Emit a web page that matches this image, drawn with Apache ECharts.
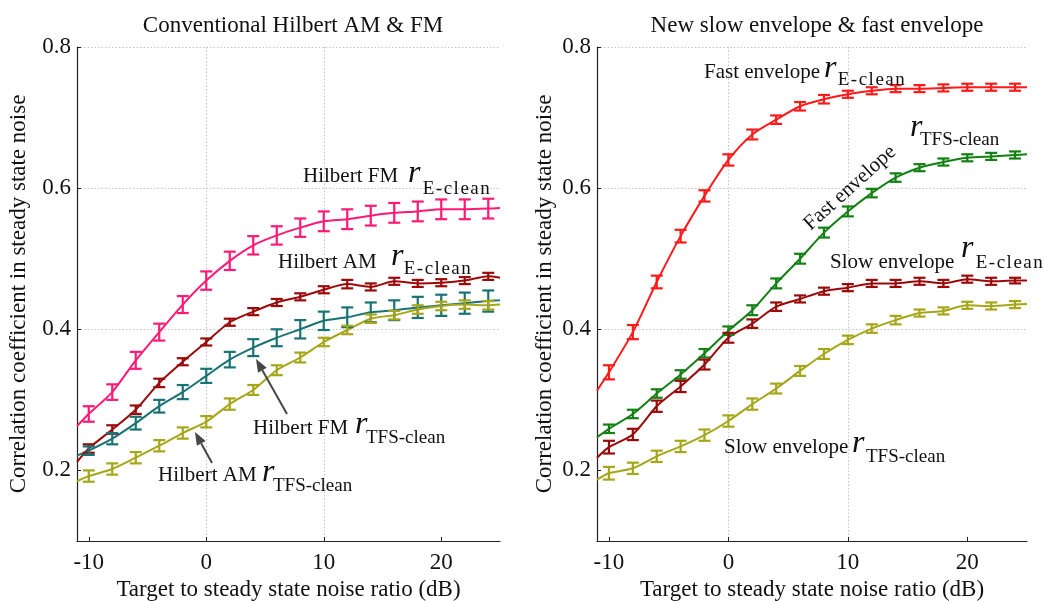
<!DOCTYPE html>
<html>
<head>
<meta charset="utf-8">
<script src="https://cdn.jsdelivr.net/npm/echarts@6/dist/echarts.min.js"></script>
<style>
  html, body { margin: 0; padding: 0; background: #ffffff; }
  #chart { width: 1044px; height: 601px; }
</style>
</head>
<body>
<div id="chart"></div>
<script>
// SNR levels (dB) at which correlations were measured
const snr = [-10, -8, -6, -4, -2, 0, 2, 4, 6, 8, 10, 12, 14, 16, 18, 20, 22, 24];
// fitted curves continue to the axis limits; values at -11 dB and 25 dB
const lineEnds = [-11, 25];

// Conventional Hilbert AM & FM
const hilbertFmE      = [0.280, 0.311, 0.356, 0.396, 0.435, 0.469, 0.497, 0.519, 0.533, 0.544, 0.553, 0.556, 0.561, 0.565, 0.567, 0.570, 0.570, 0.571];
const hilbertFmEErr   = [0.011, 0.011, 0.012, 0.012, 0.012, 0.013, 0.013, 0.013, 0.013, 0.013, 0.014, 0.014, 0.014, 0.014, 0.014, 0.014, 0.014, 0.014];
const hilbertFmEEnds  = [0.263, 0.572];
const hilbertAmE      = [0.231, 0.258, 0.286, 0.324, 0.354, 0.382, 0.410, 0.425, 0.438, 0.446, 0.456, 0.464, 0.460, 0.468, 0.465, 0.466, 0.469, 0.475];
const hilbertAmEErr   = [0.006, 0.006, 0.006, 0.006, 0.005, 0.005, 0.005, 0.005, 0.005, 0.005, 0.005, 0.006, 0.005, 0.005, 0.005, 0.005, 0.005, 0.005];
const hilbertAmEEnds  = [0.212, 0.473];
const hilbertFmT      = [0.228, 0.245, 0.267, 0.291, 0.311, 0.334, 0.357, 0.374, 0.388, 0.400, 0.412, 0.417, 0.424, 0.427, 0.431, 0.434, 0.437, 0.440];
const hilbertFmTErr   = [0.006, 0.008, 0.009, 0.009, 0.010, 0.010, 0.011, 0.012, 0.012, 0.013, 0.013, 0.014, 0.014, 0.014, 0.015, 0.015, 0.015, 0.015];
const hilbertFmTEnds  = [0.221, 0.441];
const hilbertAmT      = [0.192, 0.202, 0.218, 0.235, 0.253, 0.269, 0.294, 0.314, 0.342, 0.360, 0.382, 0.399, 0.415, 0.420, 0.428, 0.433, 0.435, 0.434];
const hilbertAmTErr   = [0.008, 0.008, 0.008, 0.008, 0.008, 0.008, 0.008, 0.007, 0.007, 0.007, 0.006, 0.006, 0.006, 0.006, 0.006, 0.006, 0.006, 0.006];
const hilbertAmTEnds  = [0.185, 0.435];

// New slow envelope & fast envelope
const fastE      = [0.339, 0.396, 0.467, 0.532, 0.589, 0.640, 0.676, 0.697, 0.716, 0.726, 0.733, 0.738, 0.741, 0.741, 0.742, 0.743, 0.743, 0.743];
const fastEErr   = [0.010, 0.010, 0.009, 0.009, 0.008, 0.008, 0.007, 0.006, 0.006, 0.006, 0.005, 0.005, 0.005, 0.005, 0.005, 0.005, 0.005, 0.005];
const fastEEnds  = [0.313, 0.743];
const fastT      = [0.259, 0.280, 0.309, 0.336, 0.366, 0.398, 0.427, 0.465, 0.500, 0.537, 0.567, 0.593, 0.615, 0.629, 0.637, 0.643, 0.645, 0.647];
const fastTErr   = [0.006, 0.006, 0.006, 0.006, 0.006, 0.006, 0.007, 0.007, 0.007, 0.007, 0.007, 0.006, 0.006, 0.005, 0.005, 0.005, 0.005, 0.005];
const fastTEnds  = [0.247, 0.648];
const slowE      = [0.233, 0.251, 0.291, 0.319, 0.350, 0.388, 0.408, 0.432, 0.443, 0.454, 0.459, 0.465, 0.465, 0.468, 0.465, 0.471, 0.468, 0.469];
const slowEErr   = [0.009, 0.008, 0.008, 0.008, 0.007, 0.007, 0.006, 0.006, 0.005, 0.005, 0.005, 0.005, 0.005, 0.005, 0.005, 0.005, 0.005, 0.004];
const slowEEnds  = [0.218, 0.469];
const slowT      = [0.196, 0.203, 0.220, 0.234, 0.250, 0.270, 0.294, 0.316, 0.341, 0.365, 0.385, 0.401, 0.413, 0.423, 0.426, 0.434, 0.433, 0.435];
const slowTErr   = [0.009, 0.008, 0.008, 0.008, 0.008, 0.008, 0.008, 0.007, 0.007, 0.007, 0.006, 0.006, 0.006, 0.005, 0.005, 0.005, 0.005, 0.005];
const slowTEnds  = [0.187, 0.436];

const xTicks = [-10, 0, 10, 20];
const yTicks = [0.2, 0.4, 0.6, 0.8];

const SERIF = '"Liberation Serif", "Times New Roman", serif';
const C = {
  pink: '#ff1a75', maroon: '#9b0a0a', teal: '#1a7373', olive: '#a6a619',
  red: '#ff1a1a', green: '#138013'
};

function lineData(vals, ends) {
  const d = [[lineEnds[0], ends[0]]];
  snr.forEach((x, i) => d.push([x, vals[i]]));
  d.push([lineEnds[1], ends[1]]);
  return d;
}

function curve(idx, vals, ends, color) {
  return {
    type: 'line', xAxisIndex: idx, yAxisIndex: idx,
    data: lineData(vals, ends), smooth: 0.25, showSymbol: false,
    lineStyle: { color: color, width: 2 }, z: 3, animation: false
  };
}

function errorBars(idx, vals, errs, color) {
  return {
    type: 'custom', xAxisIndex: idx, yAxisIndex: idx,
    data: snr.map((x, i) => [x, vals[i] - errs[i], vals[i] + errs[i]]),
    encode: { x: 0, y: [1, 2] },
    animation: false, z: 4,
    renderItem: function (params, api) {
      const lo = api.coord([api.value(0), api.value(1)]);
      const hi = api.coord([api.value(0), api.value(2)]);
      const w = 6;
      const st = { stroke: color, lineWidth: 2.2, fill: null };
      return {
        type: 'group',
        children: [
          { type: 'line', shape: { x1: lo[0], y1: lo[1], x2: hi[0], y2: hi[1] }, style: st },
          { type: 'line', shape: { x1: lo[0] - w, y1: lo[1], x2: lo[0] + w, y2: lo[1] }, style: st },
          { type: 'line', shape: { x1: hi[0] - w, y1: hi[1], x2: hi[0] + w, y2: hi[1] }, style: st }
        ]
      };
    }
  };
}

const gridLine = { show: true, lineStyle: { color: '#c4c4c4', type: [1.5, 2], width: 1 } };
const tickFont = { fontFamily: SERIF, fontSize: 23, color: '#111' };
const nameFont = { fontFamily: SERIF, fontSize: 23, color: '#111' };

function xAxis(idx) {
  return {
    type: 'value', gridIndex: idx, min: -11, max: 25, splitNumber: 4,
    name: 'Target to steady state noise ratio (dB)', nameLocation: 'middle', nameGap: 37,
    nameTextStyle: nameFont,
    axisLine: { onZero: false, lineStyle: { color: '#222', width: 1.2 } },
    axisTick: { inside: true, length: 4, lineStyle: { color: '#222' }, customValues: xTicks },
    axisLabel: Object.assign({ margin: 10, customValues: xTicks }, tickFont),
    splitLine: Object.assign({ showMinLine: false, showMaxLine: false }, gridLine)
  };
}
function yAxis(idx, gap) {
  return {
    type: 'value', gridIndex: idx, min: 0.1, max: 0.8, splitNumber: 3,
    name: 'Correlation coefficient in steady state noise', nameLocation: 'middle', nameGap: gap,
    nameRotate: 90, nameTextStyle: nameFont,
    axisLine: { show: true, onZero: false, lineStyle: { color: '#222', width: 1.2 } },
    axisTick: { show: true, inside: true, length: 4, lineStyle: { color: '#222' }, customValues: yTicks },
    axisLabel: Object.assign({ margin: 6, customValues: yTicks, formatter: v => v.toFixed(1) }, tickFont),
    splitLine: Object.assign({ showMinLine: false, showMaxLine: true }, gridLine)
  };
}

const chart = echarts.init(document.getElementById('chart'), null, { renderer: 'canvas' });

// text annotation: plain caption, italic "r", and a subscript
function caption(x, y, txt, extra) {
  return Object.assign({
    type: 'text', x: x, y: y, z: 10,
    style: { text: txt, font: '21px ' + SERIF, fill: '#111', textAlign: 'left', textVerticalAlign: 'middle' }
  }, extra || {});
}
function rSym(x, y) {
  return { type: 'text', x: x, y: y, z: 10,
    style: { text: 'r', font: 'italic 32px ' + SERIF, fill: '#111', textAlign: 'left', textVerticalAlign: 'middle' } };
}
function sub(x, y, txt, spaced) {
  const el = { type: 'text', x: x, y: y, z: 10,
    style: { text: txt, font: '19px ' + SERIF, fill: '#111', textAlign: 'left', textVerticalAlign: 'middle' } };
  if (spaced) {
    // letter-spaced subscript drawn as rich text with per-character padding
    el.style.text = txt.split('').map(ch => '{s|' + ch + '}').join('');
    el.style.rich = { s: { font: '19px ' + SERIF, fill: '#111', padding: [0, 0.75] } };
  }
  return el;
}
function arrow(x1, y1, x2, y2) {
  const dx = x2 - x1, dy = y2 - y1, L = Math.hypot(dx, dy);
  const ux = dx / L, uy = dy / L, hl = 13, hw = 5;
  const bx = x2 - ux * hl, by = y2 - uy * hl;
  return [
    { type: 'line', z: 10, shape: { x1: x1, y1: y1, x2: bx, y2: by }, style: { stroke: '#474747', lineWidth: 2 } },
    { type: 'polygon', z: 10, shape: { points: [[x2, y2], [bx - uy * hw, by + ux * hw], [bx + uy * hw, by - ux * hw]] },
      style: { fill: '#474747' } }
  ];
}

const graphics = [
  caption(303, 176, 'Hilbert FM'), rSym(408, 174), sub(422, 189, 'E-clean', true),
  caption(278, 262, 'Hilbert AM'), rSym(391, 257), sub(403, 269, 'E-clean', true),
  caption(253, 428, 'Hilbert FM'), rSym(355, 425), sub(366, 438, 'TFS-clean'),
  caption(158, 475, 'Hilbert AM'), rSym(262, 473), sub(273, 486, 'TFS-clean'),
  ...arrow(287, 414, 256, 359),
  ...arrow(212, 463, 195, 432),
  caption(704, 72, 'Fast envelope'), rSym(824, 69), sub(837, 80, 'E-clean', true),
  rSym(910, 128), sub(920, 140, 'TFS-clean'),
  caption(850, 188, 'Fast envelope', { rotation: 42 * Math.PI / 180, originX: 0, originY: 0,
    style: { text: 'Fast envelope', font: '21px ' + SERIF, fill: '#111', textAlign: 'center', textVerticalAlign: 'middle' } }),
  caption(830, 262, 'Slow envelope'), rSym(961, 249), sub(975, 263, 'E-clean', true),
  caption(724, 447, 'Slow envelope'), rSym(852, 444), sub(866, 457, 'TFS-clean')
];

chart.setOption({
  backgroundColor: '#ffffff',
  animation: false,
  title: [
    { text: 'Conventional Hilbert AM & FM', left: 288, top: 9, textAlign: 'center',
      textStyle: { fontFamily: SERIF, fontSize: 23, fontWeight: 'normal', color: '#111' } },
    { text: 'New slow envelope & fast envelope', left: 812, top: 9, textAlign: 'center',
      textStyle: { fontFamily: SERIF, fontSize: 23, fontWeight: 'normal', color: '#111' } }
  ],
  grid: [
    { left: 77, top: 47, width: 423, height: 494, containLabel: false, outerBoundsMode: 'none' },
    { left: 597, top: 47, width: 430, height: 494, containLabel: false, outerBoundsMode: 'none' }
  ],
  xAxis: [xAxis(0), xAxis(1)],
  yAxis: [yAxis(0, 47), yAxis(1, 41)],
  series: [
    curve(0, hilbertFmE, hilbertFmEEnds, C.pink),   errorBars(0, hilbertFmE, hilbertFmEErr, C.pink),
    curve(0, hilbertAmE, hilbertAmEEnds, C.maroon), errorBars(0, hilbertAmE, hilbertAmEErr, C.maroon),
    curve(0, hilbertFmT, hilbertFmTEnds, C.teal),   errorBars(0, hilbertFmT, hilbertFmTErr, C.teal),
    curve(0, hilbertAmT, hilbertAmTEnds, C.olive),  errorBars(0, hilbertAmT, hilbertAmTErr, C.olive),
    curve(1, fastE, fastEEnds, C.red),      errorBars(1, fastE, fastEErr, C.red),
    curve(1, fastT, fastTEnds, C.green),    errorBars(1, fastT, fastTErr, C.green),
    curve(1, slowE, slowEEnds, C.maroon),   errorBars(1, slowE, slowEErr, C.maroon),
    curve(1, slowT, slowTEnds, C.olive),    errorBars(1, slowT, slowTErr, C.olive)
  ],
  graphic: graphics
});
</script>
</body>
</html>
